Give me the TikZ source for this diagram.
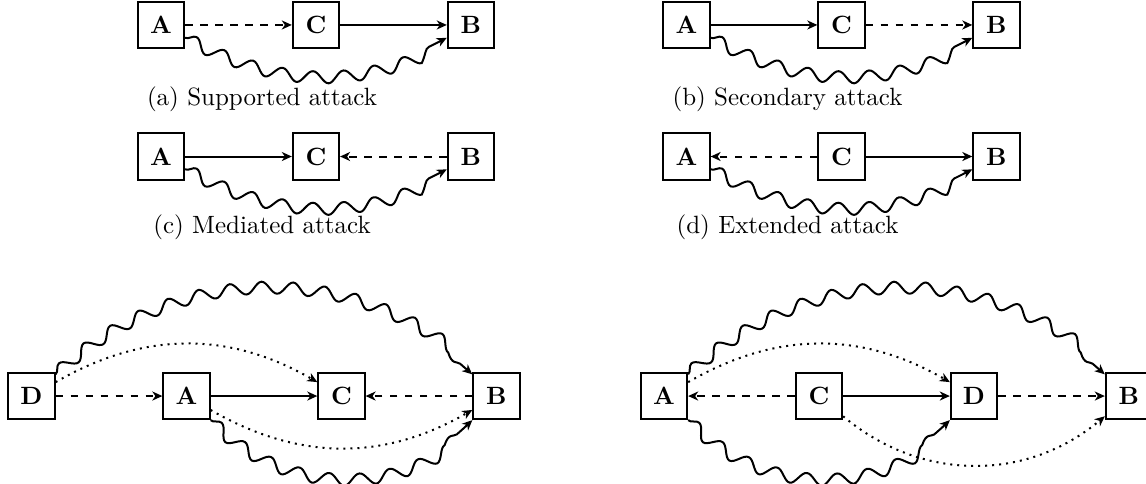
\documentclass[tikz,border=0pt]{standalone}
\usetikzlibrary{positioning,decorations.pathmorphing,arrows.meta}
\tikzset{
  arg/.style={draw, thick, minimum size=18.5pt, inner sep=0pt, font=\bfseries},
  attack/.style={->, thick, decorate, decoration={snake, amplitude=2.4pt, segment length=12.5pt, post length=1.5mm}},
}
\begin{document}
\begin{tikzpicture}[thick, >={Stealth[length=4pt,width=3.6pt,inset=1.2pt]}, node distance=1.5cm]
\useasboundingbox (0,0) rectangle (16.109,-6.790);
% small cases (a)--(d)
\foreach \p/\x/\y/\cy/\t in {a/2.263/-0.351/-1.40/Supported, b/9.65/-0.351/-1.40/Secondary, c/2.263/-2.20/-3.19/Mediated, d/9.65/-2.20/-3.19/Extended}{
  \node[arg] (\p-A) at (\x,\y) {A};
  \node[arg, right=of \p-A] (\p-C) {C};
  \node[arg, right=of \p-C] (\p-B) {B};
  \draw[attack] (\p-A) to[bend right=28] (\p-B);
  \node (\p-cap) at ({\x+1.42},\cy) {(\p) \t{} attack};
}
\draw[->, dashed] (a-A) -- (a-C);
\draw[->] (a-C) -- (a-B);
\draw[->] (b-A) -- (b-C);
\draw[->, dashed] (b-C) -- (b-B);
\draw[->] (c-A) -- (c-C);
\draw[->, dashed] (c-B) -- (c-C);
\draw[->, dashed] (d-C) -- (d-A);
\draw[->] (d-C) -- (d-B);
% (e)
\node[arg] (e-D) at (0.443,-5.567) {D};
\node[arg, right=of e-D] (e-A) {A};
\node[arg, right=of e-A] (e-C) {C};
\node[arg, right=of e-C] (e-B) {B};
\draw[->, dashed] (e-D) -- (e-A);
\draw[->] (e-A) -- (e-C);
\draw[->, dashed] (e-B) -- (e-C);
\draw[attack] (e-D) to[bend left=42] (e-B);
\draw[->, dotted] (e-D) to[bend left=30] (e-C);
\draw[attack] (e-A) to[bend right=45] (e-B);
\draw[->, dotted] (e-A) to[bend right=30] (e-B);
% (f)
\node[arg] (f-A) at (9.334,-5.567) {A};
\node[arg, right=of f-A] (f-C) {C};
\node[arg, right=of f-C] (f-D) {D};
\node[arg, right=of f-D] (f-B) {B};
\draw[->, dashed] (f-C) -- (f-A);
\draw[->] (f-C) -- (f-D);
\draw[->, dashed] (f-D) -- (f-B);
\draw[attack] (f-A) to[bend left=42] (f-B);
\draw[->, dotted] (f-A) to[bend left=30] (f-D);
\draw[attack] (f-A) to[bend right=45] (f-D);
\draw[->, dotted] (f-C) to[bend right=40] (f-B);
\end{tikzpicture}
\end{document}
